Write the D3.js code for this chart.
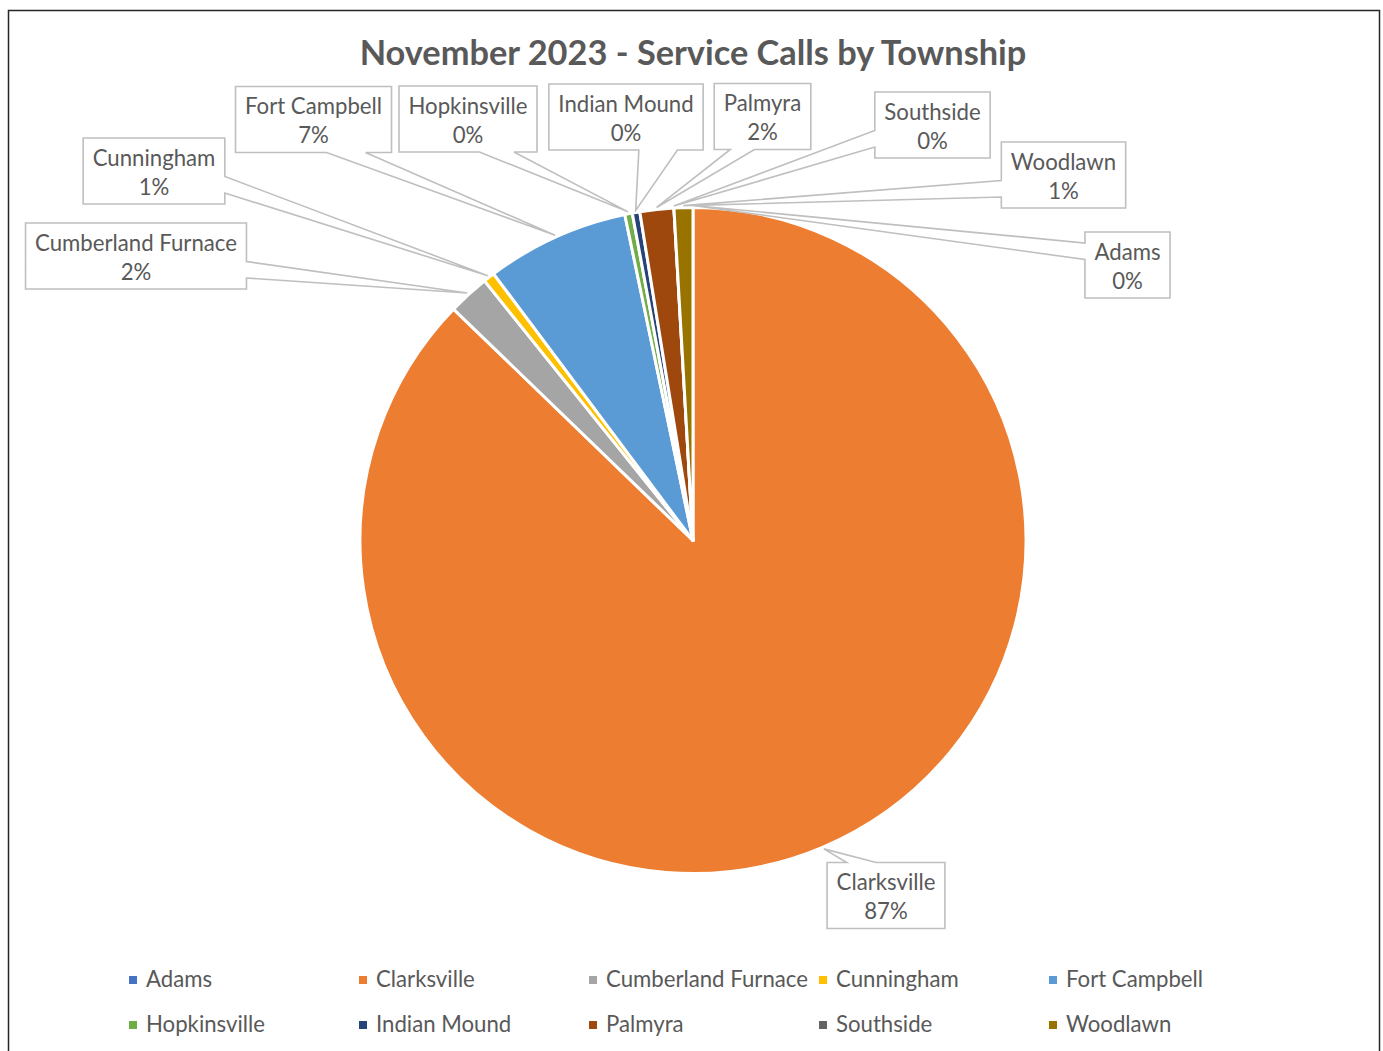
<!DOCTYPE html>
<html>
<head>
<meta charset="utf-8">
<script src="https://cdn.jsdelivr.net/npm/d3@7"></script>
<style>
  html, body { margin: 0; padding: 0; background: #fff; }
  svg { display: block; }
</style>
</head>
<body>
<svg id="chart" width="1383" height="1051"></svg>
<script>
// ---- data ----
const title = "November 2023 - Service Calls by Township";
const categories = ["Adams", "Clarksville", "Cumberland Furnace", "Cunningham", "Fort Campbell",
                    "Hopkinsville", "Indian Mound", "Palmyra", "Southside", "Woodlawn"];
const calls = [0, 478, 11, 3, 38, 2, 2, 9, 0, 5];
const colors = ["#4472C4", "#ED7D31", "#A5A5A5", "#FFC000", "#5B9BD5",
                "#70AD47", "#264478", "#9E480E", "#636363", "#997300"];

// ---- layout (label callout box centres, chart geometry) ----
const labelCenters = [[1127.5, 265], [886, 895.5], [136, 256], [154, 171], [313.5, 119.5],
                      [468, 119], [626, 117], [762.5, 116.5], [932.5, 125], [1063.5, 175]];
const cx = 693, cy = 540.5, radius = 333;
const textColor = "#595959";
const fontFamily = "Lato, 'Open Sans', sans-serif";

const svg = d3.select("#chart");

// fit font sizes to the reference text widths
function fitSize(text, weight, base, target) {
  const p = svg.append("text").attr("font-family", fontFamily).attr("font-weight", weight)
    .attr("font-size", base).text(text);
  const w = p.node().getComputedTextLength();
  p.remove();
  return base * target / w;
}
const labelSize = fitSize("Cumberland Furnace", 400, 20, 202);
const titleSize = fitSize(title, 700, 32, 667);

// chart border
svg.append("rect").attr("x", 8.5).attr("y", 10.5).attr("width", 1371).attr("height", 1060)
  .attr("fill", "none").attr("stroke", "#262626").attr("stroke-width", 1.5);

// title
svg.append("text").attr("x", cx).attr("y", 65).attr("text-anchor", "middle")
  .attr("font-family", fontFamily).attr("font-weight", 700).attr("font-size", titleSize)
  .attr("fill", textColor).text(title);

const total = d3.sum(calls);
const data = categories.map((c, i) => ({ name: c, value: calls[i], color: colors[i], i }));

const pie = d3.pie().value(d => d.value).sort(null);
const arcs = pie(data);
const arc = d3.arc().innerRadius(0).outerRadius(radius);

const g = svg.append("g").attr("transform", `translate(${cx},${cy})`);
g.selectAll("path.slice").data(arcs).join("path")
  .attr("class", "slice")
  .attr("d", arc)
  .attr("fill", d => d.data.color)
  .attr("stroke", "#fff").attr("stroke-width", 3).attr("stroke-linejoin", "round");

// callout (wedgeRectCallout-style) labels
function calloutPath(x0, y0, w, h, tx, ty) {
  const bx = x0 + w / 2, by = y0 + h / 2;
  const dxPos = tx - bx, dyPos = ty - by;
  const x1 = x0 + w * (dxPos > 0 ? 7 : 2) / 12, x2 = x0 + w * (dxPos > 0 ? 10 : 5) / 12;
  const y1 = y0 + h * (dyPos > 0 ? 7 : 2) / 12, y2 = y0 + h * (dyPos > 0 ? 10 : 5) / 12;
  const side = Math.abs(dxPos * h) > Math.abs(dyPos * w) ? (dxPos > 0 ? "r" : "l") : (dyPos > 0 ? "b" : "t");
  const p = d3.path();
  p.moveTo(x0, y0);
  if (side === "t") { p.lineTo(x1, y0); p.lineTo(tx, ty); p.lineTo(x2, y0); }
  p.lineTo(x0 + w, y0);
  if (side === "r") { p.lineTo(x0 + w, y1); p.lineTo(tx, ty); p.lineTo(x0 + w, y2); }
  p.lineTo(x0 + w, y0 + h);
  if (side === "b") { p.lineTo(x2, y0 + h); p.lineTo(tx, ty); p.lineTo(x1, y0 + h); }
  p.lineTo(x0, y0 + h);
  if (side === "l") { p.lineTo(x0, y2); p.lineTo(tx, ty); p.lineTo(x0, y1); }
  p.closePath();
  return p.toString();
}

const tipArc = d3.arc().innerRadius(radius + 2).outerRadius(radius + 2);
const labels = svg.append("g");
arcs.forEach((a, i) => {
  const [lx, ly] = labelCenters[i];
  const c = tipArc.centroid(a);
  const tx = cx + c[0], ty = cy + c[1];
  const pct = Math.round(a.data.value / total * 100) + "%";
  const lg = labels.append("g");
  const t1 = lg.append("text").attr("font-family", fontFamily).attr("font-size", labelSize)
    .attr("fill", textColor).attr("text-anchor", "middle").text(a.data.name);
  const t2 = lg.append("text").attr("font-family", fontFamily).attr("font-size", labelSize)
    .attr("fill", textColor).attr("text-anchor", "middle").text(pct);
  const tw = Math.max(t1.node().getComputedTextLength(), t2.node().getComputedTextLength());
  const w = tw + 19, h = 66;
  const x0 = lx - w / 2, y0 = ly - h / 2;
  lg.insert("path", "text").attr("d", calloutPath(x0, y0, w, h, tx, ty))
    .attr("fill", "#fff").attr("stroke", "#BFBFBF").attr("stroke-width", 1.6)
    .attr("stroke-linejoin", "miter");
  t1.attr("x", lx).attr("y", y0 + 27.5);
  t2.attr("x", lx).attr("y", y0 + 56.5);
});

// legend
const legendCols = 5, colW = 230, legendX = 129, legendY = 980, rowH = 45;
const leg = svg.append("g");
data.forEach((d, i) => {
  const col = i % legendCols, row = Math.floor(i / legendCols);
  const x = legendX + col * colW, y = legendY + row * rowH;
  leg.append("rect").attr("x", x).attr("y", y - 4).attr("width", 8).attr("height", 8).attr("fill", d.color);
  leg.append("text").attr("x", x + 17).attr("y", y + 7).attr("font-family", fontFamily)
    .attr("font-size", labelSize).attr("fill", textColor).text(d.name);
});
</script>
</body>
</html>
